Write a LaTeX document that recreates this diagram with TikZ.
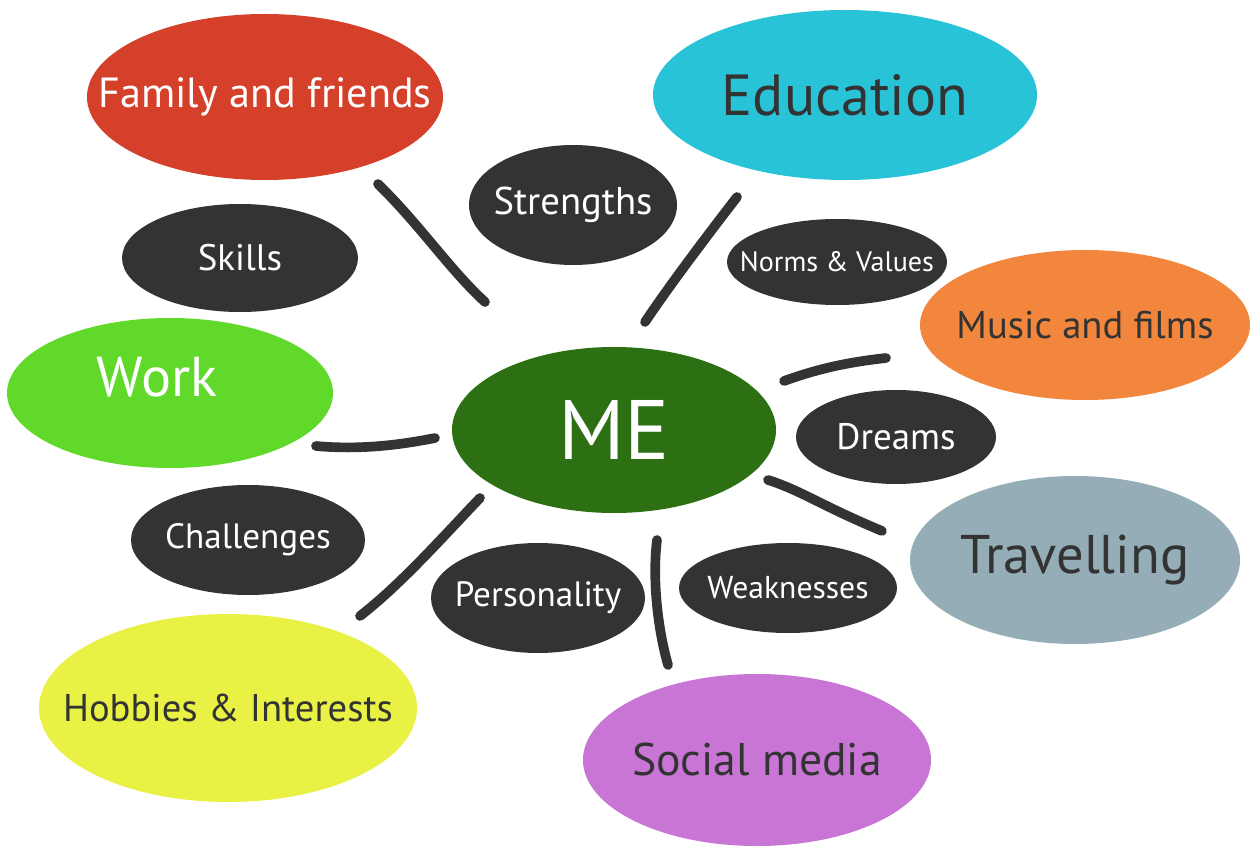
\documentclass[tikz,border=0pt]{standalone}
\usepackage{fontspec}
\setmainfont{PT Sans}
\usetikzlibrary{shapes.geometric}
\definecolor{cred}{HTML}{D5402A}
\definecolor{ccyan}{HTML}{29C3D8}
\definecolor{corange}{HTML}{F2863C}
\definecolor{clgreen}{HTML}{60D92B}
\definecolor{cdgreen}{HTML}{2D6F13}
\definecolor{cgblue}{HTML}{95ADB6}
\definecolor{cyellow}{HTML}{E9F244}
\definecolor{cpurple}{HTML}{C875D6}
\definecolor{cdark}{HTML}{333333}
\tikzset{
  blob/.style n args={3}{ellipse, fill=#1, draw=none, inner sep=0pt,
    minimum width=#2*0.02cm, minimum height=#3*0.02cm},
  darkblob/.style n args={2}{blob={cdark}{#1}{#2}},
  wtxt/.style={text=white},
  dtxt/.style={text=cdark},
  stroke/.style={draw=cdark, line width=5.5pt, line cap=round},
}
\newcommand{\fs}[1]{\fontsize{#1}{#1}\selectfont}
\begin{document}
\begin{tikzpicture}[x=0.02cm,y=-0.02cm]
\useasboundingbox[fill=white] (0,0) rectangle (1250,847);

% big colored ellipses
\node[blob={cred}{356}{166}, label={[wtxt,font=\fs{24}]center:Family and friends}] (ff) at (265,97) {};
\node[blob={ccyan}{384}{170}, label={[dtxt,font=\fs{33}]center:Education}] (edu) at (845,95) {};
\node[blob={corange}{330}{150}, label={[dtxt,font=\fs{22}]center:Music and films}] (mus) at (1085,325) {};
\node[blob={clgreen}{326}{150}, label={[wtxt,font=\fs{32},xshift=-0.26cm,yshift=0.32cm]center:Work}] (work) at (170,393) {};
\node[blob={cdgreen}{324}{166}, label={[wtxt,font=\fs{48}]center:ME}] (me) at (614,430) {};
\node[blob={cgblue}{330}{168}, label={[dtxt,font=\fs{31}]center:Travelling}] (trav) at (1075,560) {};
\node[blob={cyellow}{378}{188}, label={[dtxt,font=\fs{22}]center:Hobbies \& Interests}] (hob) at (228,708) {};
\node[blob={cpurple}{348}{172}, label={[dtxt,font=\fs{26}]center:Social media}] (soc) at (757,760) {};

% dark ellipses
\node[darkblob={208}{120}, label={[wtxt,font=\fs{22}]center:Strengths}] (str) at (573,205) {};
\node[darkblob={236}{108}, label={[wtxt,font=\fs{21}]center:Skills}] (ski) at (240,258) {};
\node[darkblob={220}{86}, label={[wtxt,font=\fs{16}]center:Norms \& Values}] (nv) at (837,262) {};
\node[darkblob={200}{94}, label={[wtxt,font=\fs{21}]center:Dreams}] (dre) at (896,437) {};
\node[darkblob={234}{110}, label={[wtxt,font=\fs{20}]center:Challenges}] (cha) at (248,540) {};
\node[darkblob={214}{110}, label={[wtxt,font=\fs{20}]center:Personality}] (per) at (538,598) {};
\node[darkblob={218}{90}, label={[wtxt,font=\fs{18}]center:Weaknesses}] (wea) at (788,588) {};

% connector end points
\coordinate (c1a) at (378,184); \coordinate (c1b) at (485,302);
\coordinate (c2a) at (737,197); \coordinate (c2b) at (645,322);
\coordinate (c3a) at (886,358); \coordinate (c3b) at (784,381);
\coordinate (c4a) at (316,446); \coordinate (c4b) at (435,438);
\coordinate (c5a) at (768,480); \coordinate (c5b) at (882,531);
\coordinate (c6a) at (480,498); \coordinate (c6b) at (360,616);
\coordinate (c7a) at (657,540); \coordinate (c7b) at (668,665);

\draw[stroke] (c1a) .. controls (420,225) and (450,270) .. (c1b);
\draw[stroke] (c2a) .. controls (700,245) and (670,285) .. (c2b);
\draw[stroke] (c3a) .. controls (850,362) and (820,368) .. (c3b);
\draw[stroke] (c4a) .. controls (360,450) and (400,445) .. (c4b);
\draw[stroke] (c5a) .. controls (800,490) and (820,505) .. (c5b);
\draw[stroke] (c6a) .. controls (440,540) and (400,585) .. (c6b);
\draw[stroke] (c7a) .. controls (652,580) and (658,630) .. (c7b);
\end{tikzpicture}
\end{document}
